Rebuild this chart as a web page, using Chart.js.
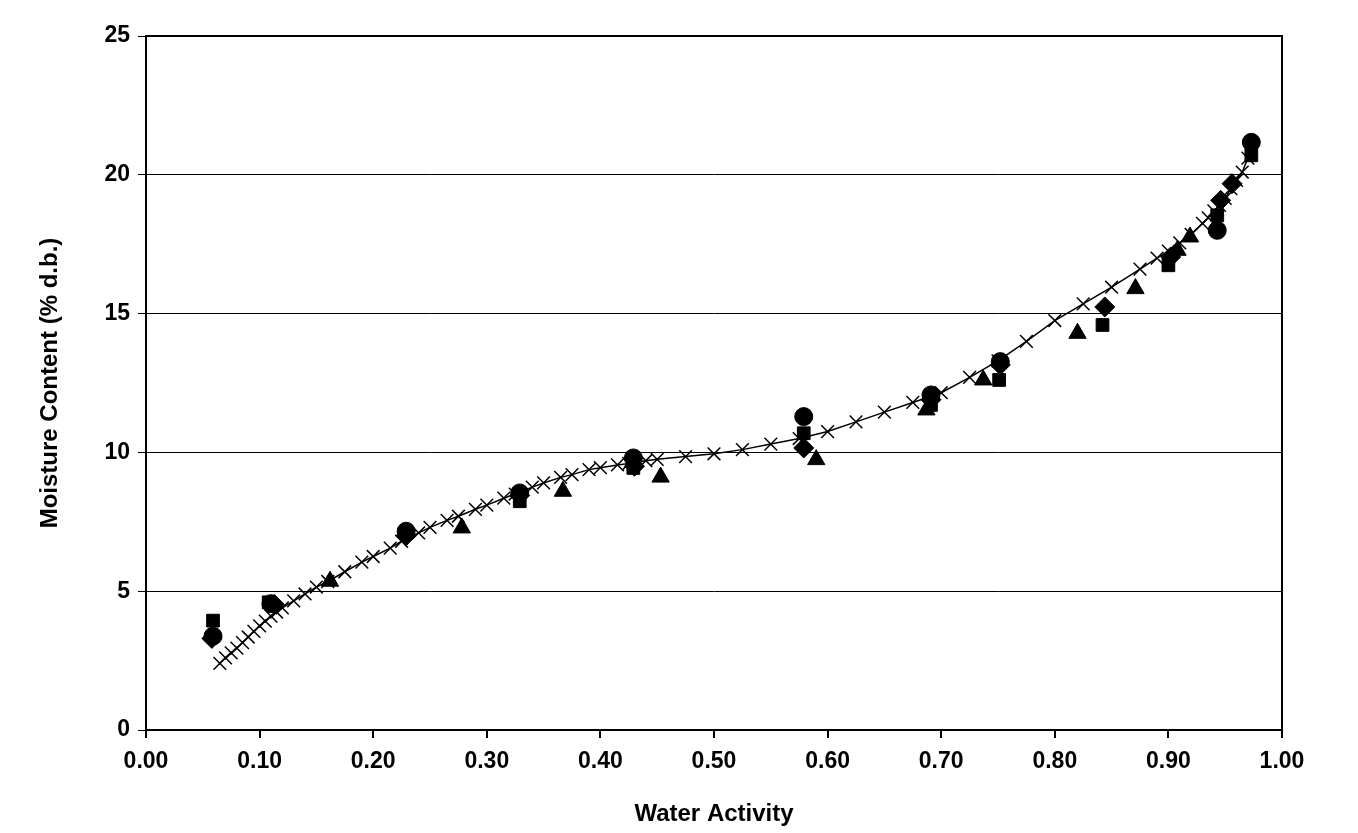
<!DOCTYPE html>
<html>
<head>
<meta charset="utf-8">
<script src="https://cdn.jsdelivr.net/npm/chart.js@4/dist/chart.umd.min.js"></script>
<style>
  body { margin: 0; background: #fff; }
  canvas { display: block; }
</style>
</head>
<body>
<canvas id="chart" width="1358" height="833"></canvas>
<script>
const diamondAw = [0.058, 0.113, 0.229, 0.329, 0.430, 0.579, 0.691, 0.752, 0.844, 0.902, 0.946, 0.956];
const diamondMc = [3.30, 4.52, 7.00, 8.45, 9.50, 10.16, 11.90, 13.15, 15.24, 17.04, 19.08, 19.68];

const squareAw = [0.059, 0.108, 0.329, 0.429, 0.579, 0.691, 0.751, 0.842, 0.900, 0.943, 0.973];
const squareMc = [3.94, 4.60, 8.24, 9.44, 10.69, 11.71, 12.61, 14.59, 16.74, 18.54, 20.70];

const triangleAw = [0.162, 0.278, 0.367, 0.453, 0.590, 0.687, 0.737, 0.820, 0.871, 0.908, 0.919];
const triangleMc = [5.36, 7.28, 8.60, 9.11, 9.74, 11.53, 12.61, 14.29, 15.90, 17.28, 17.76];

const circleAw = [0.059, 0.110, 0.229, 0.329, 0.429, 0.579, 0.691, 0.752, 0.943, 0.973];
const circleMc = [3.38, 4.55, 7.16, 8.54, 9.80, 11.29, 12.07, 13.27, 18.00, 21.17];

// Fitted curve (crosses)
const fitAw = [0.065, 0.07, 0.075, 0.08, 0.085, 0.09, 0.095, 0.1, 0.105, 0.11, 0.115, 0.12, 0.13, 0.14, 0.15, 0.16, 0.175, 0.19, 0.2, 0.215, 0.225, 0.24, 0.25, 0.265, 0.275, 0.29, 0.3,
  0.315, 0.325, 0.34, 0.35, 0.365, 0.375, 0.39, 0.4, 0.415, 0.425, 0.44, 0.45, 0.475, 0.5, 0.525, 0.55, 0.575, 0.6, 0.625, 0.65, 0.675,
  0.7, 0.725, 0.75, 0.775, 0.8, 0.825, 0.85, 0.875, 0.89, 0.9, 0.91, 0.92, 0.93, 0.935, 0.94, 0.945, 0.95, 0.955, 0.96, 0.965, 0.97];
const fitMc = [2.40, 2.60, 2.78, 2.95, 3.15, 3.35, 3.55, 3.75, 3.92, 4.10, 4.25, 4.40, 4.65, 4.90, 5.15, 5.35, 5.70, 6.05, 6.25, 6.55, 6.80, 7.10, 7.30, 7.55, 7.70, 7.95, 8.10,
  8.35, 8.50, 8.75, 8.90, 9.10, 9.20, 9.38, 9.45, 9.55, 9.60, 9.70, 9.75, 9.85, 9.95, 10.10, 10.30, 10.50, 10.75, 11.10, 11.45, 11.80,
  12.15, 12.70, 13.30, 14.00, 14.75, 15.35, 15.95, 16.60, 17.00, 17.25, 17.55, 17.85, 18.25, 18.45, 18.70, 18.90, 19.15, 19.50, 19.80, 20.10, 20.60];

const xTicks = [0, 0.1, 0.2, 0.3, 0.4, 0.5, 0.6, 0.7, 0.8, 0.9, 1.0];
const yTicks = [0, 5, 10, 15, 20, 25];

function pts(xs, ys) {
  return xs.map((x, i) => ({ x: x, y: ys[i] }));
}

function markerSet(xs, ys, style, radius) {
  return {
    data: pts(xs, ys),
    pointStyle: style,
    pointRadius: radius,
    backgroundColor: '#000',
    borderColor: '#000',
    borderWidth: 1,
    showLine: false
  };
}

const frame = {
  id: 'frame',
  afterDraw(chart) {
    const { ctx, chartArea: a } = chart;
    ctx.save();
    ctx.strokeStyle = '#000';
    ctx.lineWidth = 2;
    ctx.strokeRect(a.left, a.top, a.right - a.left, a.bottom - a.top);
    ctx.restore();
  }
};

const fam = '"Liberation Sans Narrow", "Liberation Sans", Arial, sans-serif';
const tickFont = { family: fam, size: 23, weight: 'bold' };
const titleFont = { family: 'Liberation Sans, Arial, sans-serif', size: 24, weight: 'bold' };

new Chart(document.getElementById('chart'), {
  type: 'scatter',
  data: {
    datasets: [
      markerSet(diamondAw, diamondMc, 'rectRot', 10),
      markerSet(squareAw, squareMc, 'rect', 9),
      markerSet(triangleAw, triangleMc, 'triangle', 10),
      markerSet(circleAw, circleMc, 'circle', 9),
      {
        data: pts(fitAw, fitMc),
        showLine: true,
        pointStyle: 'crossRot',
        pointRadius: 9,
        borderColor: '#000',
        borderWidth: 1.5,
        pointBorderWidth: 1.5,
        backgroundColor: '#000'
      }
    ]
  },
  options: {
    responsive: false,
    animation: false,
    layout: { padding: { top: 36, right: 76, left: 0, bottom: 0 } },
    plugins: { legend: { display: false }, tooltip: { enabled: false } },
    scales: {
      x: {
        type: 'linear',
        min: 0, max: 1,
        afterBuildTicks: s => { s.ticks = xTicks.map(v => ({ value: v })); },
        afterFit: s => { s.height = 103; },
        ticks: { color: '#000', font: tickFont, padding: 10, callback: v => v.toFixed(2) },
        grid: { drawOnChartArea: false, color: '#000', tickLength: 8, lineWidth: 2 },
        border: { color: '#000', width: 2 },
        title: { display: true, text: 'Water Activity', color: '#000', font: titleFont, padding: { top: 6 } }
      },
      y: {
        min: 0, max: 25,
        afterBuildTicks: s => { s.ticks = yTicks.map(v => ({ value: v })); },
        afterFit: s => { s.width = 146; },
        ticks: { color: '#000', font: tickFont, padding: 8 },
        grid: { color: '#000', lineWidth: 1, tickLength: 8 },
        border: { color: '#000', width: 2 },
        title: { display: true, text: 'Moisture Content (% d.b.)', color: '#000', font: { family: fam, size: 24, weight: 'bold' }, padding: { top: 36, bottom: 0 } }
      }
    }
  },
  plugins: [frame]
});
</script>
</body>
</html>
